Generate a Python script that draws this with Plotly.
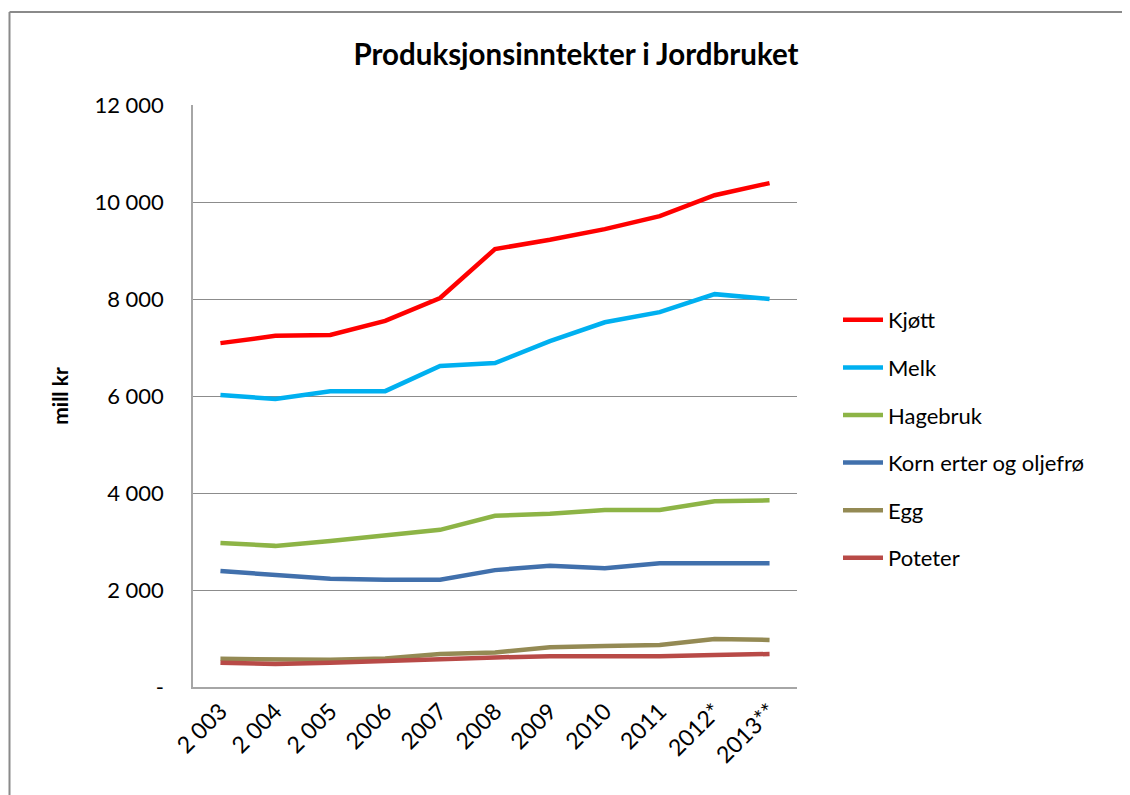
import plotly.graph_objects as go

years = ["2 003", "2 004", "2 005", "2006", "2007", "2008", "2009", "2010", "2011", "2012*", "2013**"]

kjott = [7090, 7240, 7260, 7550, 8020, 9030, 9220, 9440, 9710, 10140, 10390]
melk = [6020, 5940, 6100, 6100, 6620, 6680, 7130, 7520, 7730, 8100, 8000]
hagebruk = [2970, 2910, 3010, 3130, 3240, 3530, 3570, 3650, 3650, 3830, 3850]
korn = [2390, 2300, 2230, 2210, 2210, 2410, 2500, 2450, 2550, 2550, 2550]
egg = [580, 580, 560, 590, 680, 710, 820, 845, 865, 990, 970]
poteter = [500, 475, 500, 540, 590, 610, 635, 635, 635, 660, 680]

series = [
    ("Kjøtt", kjott, "#FF0000"),
    ("Melk", melk, "#00B0F0"),
    ("Hagebruk", hagebruk, "#8DB446"),
    ("Korn erter og oljefrø", korn, "#4170AC"),
    ("Egg", egg, "#948A54"),
    ("Poteter", poteter, "#B84A47"),
]

tickvals = [0, 2000, 4000, 6000, 8000, 10000, 12000]
ticktext = ["-", "2 000", "4 000", "6 000", "8 000", "10 000", "12 000"]

font_family = "Lato, 'Open Sans', sans-serif"

fig = go.Figure()
for i, (name, vals, color) in enumerate(series):
    fig.add_trace(go.Scatter(
        x=list(range(len(years))), y=vals, name=name, mode="lines",
        line=dict(color=color, width=4.5), legendgroup=f"g{i}",
    ))

OFF = 8  # page body margin
W, H = 1130 - OFF, 795 - OFF
L, R, T, B = 193 - OFF, 797 - OFF, 105 - OFF, 687 - OFF

px = lambda v: (v - L) / (R - L)
py = lambda v: (B - v) / (B - T)
border = dict(color="#8A8A8A", width=2)

fig.update_layout(
    width=W, height=H,
    margin=dict(l=L, r=W - R, t=T, b=H - B),
    paper_bgcolor="white", plot_bgcolor="white",
    font=dict(family=font_family, color="black"),
    title=dict(text="<b>Produksjonsinntekter i Jordbruket</b>", x=(576 - OFF) / W, xanchor="center",
               y=1 - (55 - OFF) / H, yanchor="middle", font=dict(size=29.5, family=font_family)),
    showlegend=True,
    legend=dict(x=px(838 - OFF), xanchor="left", y=py(439 - OFF), yanchor="middle",
                font=dict(size=22, family=font_family), tracegroupgap=16,
                itemwidth=40, bgcolor="rgba(0,0,0,0)"),
    xaxis=dict(
        tickmode="array", tickvals=list(range(len(years))), ticktext=years,
        range=[-0.5, len(years) - 0.5], tickangle=-45, tickfont=dict(size=23),
        showgrid=False, showline=True, linecolor="#A6A6A6", linewidth=1.5, zeroline=False,
        ticks="",
    ),
    yaxis=dict(
        tickmode="array", tickvals=tickvals, ticktext=ticktext, range=[0, 12000],
        tickfont=dict(size=22), showgrid=True, gridcolor="#8C8C8C", gridwidth=1,
        showline=True, linecolor="#A6A6A6", linewidth=1.5, zeroline=False, ticks="",
        ticklabelstandoff=23,
        title=dict(text="<b>mill kr</b>", font=dict(size=21), standoff=20),
    ),
    shapes=[
        dict(type="line", xref="paper", yref="paper",
             x0=px(1.5), x1=px(W + 5), y0=py(12 - OFF), y1=py(12 - OFF), line=border, layer="below"),
        dict(type="line", xref="paper", yref="paper",
             x0=px(1.5), x1=px(1.5), y0=py(12 - OFF), y1=py(H + 5), line=border, layer="below"),
    ],
)

fig.write_html("out.html")
